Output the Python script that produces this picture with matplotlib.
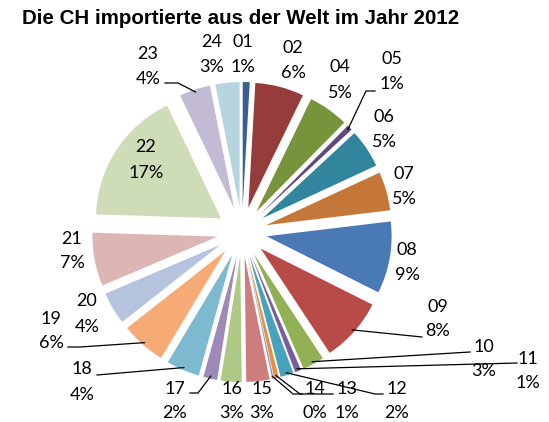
import matplotlib
matplotlib.use("Agg")
import matplotlib.pyplot as plt
import numpy as np

# ---------------- data ----------------
categories = ["01", "02", "04", "05", "06", "07", "08", "09", "10", "11", "12", "13",
              "14", "15", "16", "17", "18", "19", "20", "21", "22", "23", "24"]
values = [0.9, 6.3, 5.2, 0.7, 5.0, 5.0, 9.3, 8.3, 2.8, 0.8, 1.7, 0.6,
          0.2, 3.0, 2.7, 1.8, 4.3, 5.8, 4.2, 6.9, 17.4, 4.0, 3.1]
colors = ["#3A5F94", "#963C3A", "#77933C", "#604A7B", "#31859C", "#C5773A",
          "#4A7AB6", "#B84A47", "#92B155", "#7A5E9A", "#47A3BD", "#EB8C3F",
          "#7E9CCB", "#CD7D7B", "#AFC886", "#9D8AB8", "#7DBACF", "#F6AA76",
          "#B5C3DE", "#DDB5B4", "#CFDCB8", "#C3BAD3", "#B7D5DF"]
title = "Die CH importierte aus der Welt im Jahr 2012"

# ---------------- layout ----------------
W, H = 549, 422
CX, CY, R = 242, 232, 125   # pie centre / radius in pixels
EXPLODE = 0.2

# label centres (pixels, from top-left)
label_pos = {"01": (243, 54), "24": (212, 54), "23": (148, 66), "02": (293, 60),
             "04": (340, 80), "05": (392, 71), "06": (384, 129), "07": (404, 186),
             "08": (407, 262), "09": (438, 319), "10": (484, 359), "11": (528, 371),
             "12": (397, 401), "13": (347, 401), "14": (315, 401), "15": (262, 401),
             "16": (232, 401), "17": (175, 401), "18": (82, 382), "19": (51, 331),
             "20": (87, 314), "21": (72, 251), "22": (146, 160)}
# leader line points on label side (pixels)
leaders = {"23": [(165, 83), (178, 83)], "05": [(375, 91), (366, 91)],
           "09": [(422, 337)], "10": [(470, 352)], "11": [(517, 363)],
           "12": [(383, 394), (375, 394)], "13": [(333, 394), (300, 394)],
           "14": [(302, 394), (293, 394)], "17": [(190, 393), (198, 393)],
           "18": [(97, 375)], "19": [(68, 347), (80, 347)]}


def px(p):
    return ((p[0] - CX) / R, (CY - p[1]) / R)


fig = plt.figure(figsize=(W / 100, H / 100), dpi=100)
ax = fig.add_axes([0, 0, 1, 1])
wedges, _ = ax.pie(values, colors=colors, startangle=90, counterclock=False,
                   explode=[EXPLODE] * len(values), radius=1.0,
                   wedgeprops=dict(linewidth=0))
ax.set_aspect("auto")
ax.set_xlim(-CX / R, (W - CX) / R)
ax.set_ylim(-(H - CY) / R, CY / R)
ax.axis("off")

total = sum(values)
font = "Lato"
fs = 13
for cat, v, w in zip(categories, values, wedges):
    x, y = label_pos[cat]
    pct = f"{round(v / total * 100)}%"
    ax.text(*px((x, y - 12.5)), cat, ha="center", va="center", fontsize=fs,
            family=font, color="#000000")
    ax.text(*px((x, y + 12.5)), pct, ha="center", va="center", fontsize=fs,
            family=font, color="#000000")
    if cat in leaders:
        mid = np.deg2rad((w.theta1 + w.theta2) / 2)
        cx, cy = w.center
        sx, sy = cx + 0.98 * np.cos(mid), cy + 0.98 * np.sin(mid)
        pts = [px(p) for p in leaders[cat]] + [(sx, sy)]
        ax.plot([p[0] for p in pts], [p[1] for p in pts], color="black",
                lw=0.9, zorder=5)

fig.text(22 / W, 1 - 19 / H, title, ha="left", va="center", fontsize=14.8,
         fontweight="bold", family="Liberation Sans")

fig.savefig("out.png", dpi=100)
